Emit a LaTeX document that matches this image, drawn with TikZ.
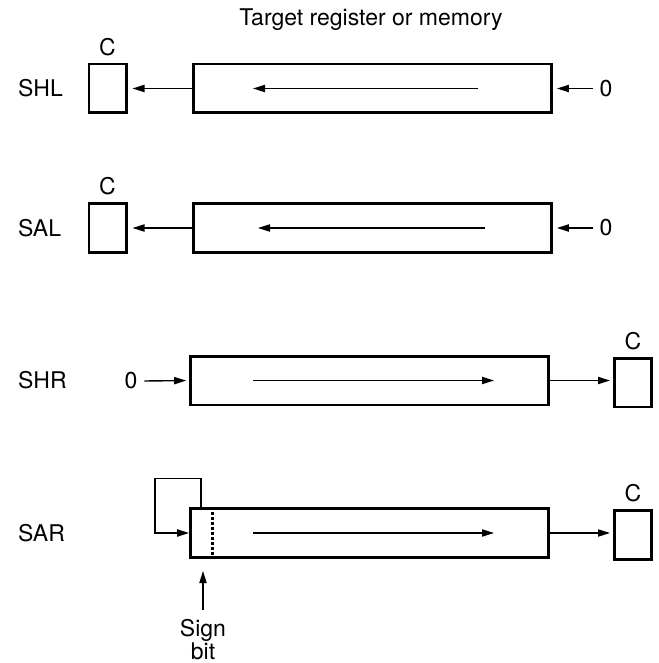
\documentclass[tikz,border=0pt]{standalone}
\usepackage{fontspec}
\setmainfont{TeX Gyre Heros}
\usetikzlibrary{arrows.meta}

\begin{document}
\begin{tikzpicture}[x=0.5pt, y=-0.5pt, font=\fontsize{11.5}{13}\selectfont,
  reg/.style={draw, line width=1.4pt, minimum width=179pt, minimum height=24.4pt, inner sep=0pt},
  cbox/.style={draw, line width=1.4pt, minimum width=18.6pt, minimum height=24.4pt, inner sep=0pt, label={above:C}},
  arr/.style={-{Triangle[length=6pt,width=3.6pt]}, line width=0.7pt}]
  \useasboundingbox (0,0) rectangle (658,663);
  \node (title) at (371,20) {Target register or memory};
  \foreach \n/\t/\y/\s/\e in {shl/SHL/88.5/478/253, sal/SAL/228/485/258} {
    \node[anchor=west] (l\n) at (11,\y) {\t};
    \node[cbox] (c\n) at (107.5,\y) {};
    \node[reg] (\n) at (372.5,\y) {};
    \node (z\n) at (606,\y) {0};
    \draw[arr, shorten >=2.5pt] (\n.west) -- (c\n.east);
    \draw[arr, shorten >=2pt] (z\n.west) -- (\n.east);
    \draw[arr] (\s,\y) -- (\e,\y);
  }
  \foreach \n/\t/\y in {shr/SHR/380.5, sar/SAR/533} {
    \node[anchor=west] (l\n) at (11,\y) {\t};
    \node[reg] (\n) at (369.5,\y) {};
    \node[cbox] (c\n) at (633,\y+2) {};
    \draw[arr, shorten >=1.5pt] (\n.east) -- (c\n.west |- \n.east);
    \draw[arr] (253,\y) -- (494,\y);
  }
  \node (zshr) at (131,381) {0};
  \draw[arr, shorten >=1.5pt] (zshr.east) -- (shr.west);
  \draw[line width=1.3pt, dash pattern=on 1.5pt off 1pt] ([xshift=11.75pt]sar.north west) -- ([xshift=11.75pt]sar.south west);
  \draw[arr] ([xshift=6pt]sar.north west) -- ++(0,-29) -| ([xshift=-17pt]sar.west) -- (sar.west);
  \node[align=center, anchor=north, inner sep=1pt] (sign) at (203,617) {Sign\\[-1.5pt]bit};
  \coordinate (signtip) at (203,571);
  \draw[arr, shorten <=3.5pt] (sign.north) -- (signtip);
\end{tikzpicture}
\end{document}
